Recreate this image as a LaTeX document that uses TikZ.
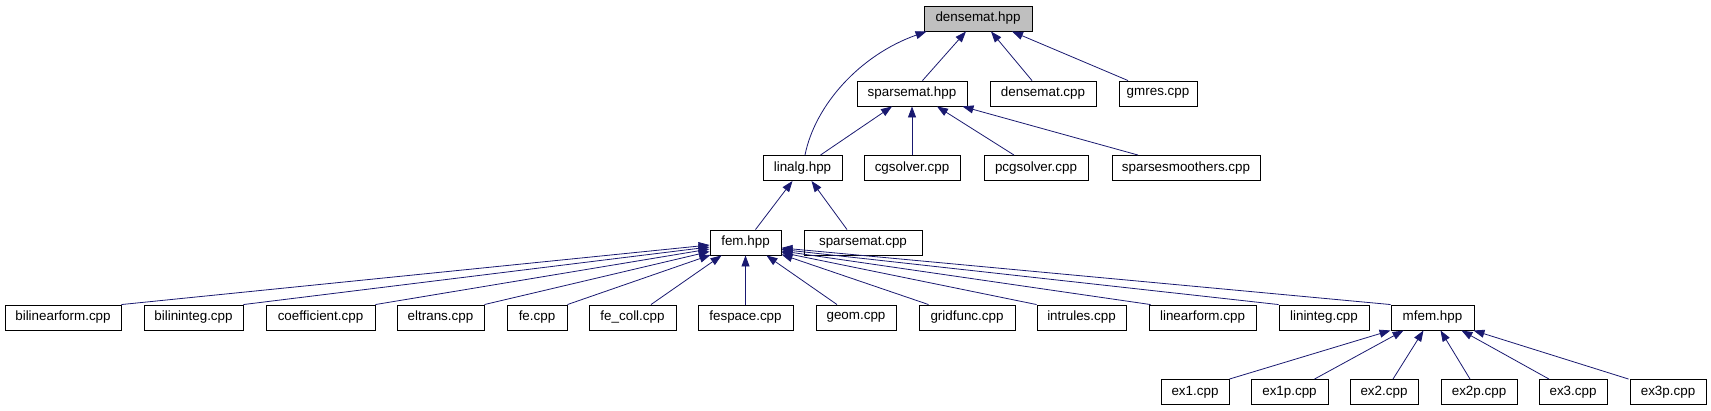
\documentclass[tikz,border=0pt]{standalone}
\usepackage{fontspec}
\setmainfont{Liberation Sans}
\usetikzlibrary{arrows.meta}
\definecolor{mblue}{HTML}{191970}
\definecolor{hgray}{HTML}{BFBFBF}
\begin{document}
\begin{tikzpicture}[x=1pt,y=-1pt,
  box/.style={draw=black, line width=0.9pt, fill=white, minimum height=25pt, inner sep=0pt, font=\fontsize{13.4}{15}\selectfont},
  edge/.style={draw=mblue, line width=0.8pt, -{Triangle[length=11pt,width=8pt]}}]
\useasboundingbox (0,0) rectangle (1711,411);
% row 0
\node[box, fill=hgray, minimum width=108pt] (dh) at (978,18.5) {densemat.hpp};
% row 1
\node[box, minimum width=110pt] (sh) at (912,93.5) {sparsemat.hpp};
\node[box, minimum width=106pt] (dc) at (1043,93.5) {densemat.cpp};
\node[box, minimum width=78pt] (gm) at (1158,93.5) {gmres.cpp};
% row 2
\node[box, minimum width=79pt] (la) at (802.5,168) {linalg.hpp};
\node[box, minimum width=96pt] (cg) at (912,168) {cgsolver.cpp};
\node[box, minimum width=104pt] (pcg) at (1036,168) {pcgsolver.cpp};
\node[box, minimum width=148pt] (ssm) at (1186,168) {sparsesmoothers.cpp};
% row 3
\node[box, minimum width=71pt] (fem) at (745.5,242.5) {fem.hpp};
\node[box, minimum width=118pt] (sc) at (863,242.5) {sparsemat.cpp};
% row 4
\node[box, minimum width=116pt] (blf) at (63,317.5) {bilinearform.cpp};
\node[box, minimum width=99pt] (bli) at (193.5,317.5) {bilininteg.cpp};
\node[box, minimum width=109pt] (coe) at (320.5,317.5) {coefficient.cpp};
\node[box, minimum width=87pt] (elt) at (440.5,317.5) {eltrans.cpp};
\node[box, minimum width=60pt] (fe) at (537,317.5) {fe.cpp};
\node[box, minimum width=87pt] (fec) at (632.5,317.5) {fe\_coll.cpp};
\node[box, minimum width=95pt] (fes) at (745.5,317.5) {fespace.cpp};
\node[box, minimum width=80pt] (geo) at (856,317.5) {geom.cpp};
\node[box, minimum width=96pt] (gf) at (967,317.5) {gridfunc.cpp};
\node[box, minimum width=89pt] (ir) at (1081.5,317.5) {intrules.cpp};
\node[box, minimum width=107pt] (lf) at (1202.5,317.5) {linearform.cpp};
\node[box, minimum width=90pt] (li) at (1324,317.5) {lininteg.cpp};
\node[box, minimum width=83pt] (mf) at (1432.5,317.5) {mfem.hpp};
% row 5
\node[box, minimum width=68pt] (e1) at (1195,392) {ex1.cpp};
\node[box, minimum width=77pt] (e1p) at (1289.5,392) {ex1p.cpp};
\node[box, minimum width=68pt] (e2) at (1384,392) {ex2.cpp};
\node[box, minimum width=76pt] (e2p) at (1479,392) {ex2p.cpp};
\node[box, minimum width=68pt] (e3) at (1573,392) {ex3.cpp};
\node[box, minimum width=76pt] (e3p) at (1668,392) {ex3p.cpp};
% edges to densemat.hpp
\draw[edge] ([xshift=10.5pt]sh.north) -- ([xshift=-12pt]dh.south);
\draw[edge] ([xshift=-11pt]dc.north) -- ([xshift=13pt]dh.south);
\draw[edge] ([xshift=-30pt]gm.north) -- ([xshift=34pt]dh.south);
\draw[edge] ([xshift=2.5pt]la.north) .. controls (815,105) and (860,55) .. ([xshift=3pt]dh.south west);
% edges to sparsemat.hpp
\draw[edge] ([xshift=18pt]la.north) -- ([xshift=-20pt]sh.south);
\draw[edge] (cg.north) -- (sh.south);
\draw[edge] ([xshift=-22pt]pcg.north) -- ([xshift=25pt]sh.south);
\draw[edge] ([xshift=-48pt]ssm.north) -- ([xshift=-5pt]sh.south east);
% edges to linalg.hpp
\draw[edge] ([xshift=10pt]fem.north) -- ([xshift=-10pt]la.south);
\draw[edge] ([xshift=-16pt]sc.north) -- ([xshift=9pt]la.south);
% edges to fem.hpp
\draw[edge] (blf.north east) -- ([yshift=-2.5pt]fem.west);
\draw[edge] (bli.north east) -- ([yshift=-4.5pt]fem.west);
\draw[edge] (coe.north east) -- ([yshift=-6.5pt]fem.west);
\draw[edge] (elt.north east) -- ([yshift=-9pt]fem.west);
\draw[edge] (fe.north east) -- ([xshift=1pt,yshift=0.5pt]fem.south west);
\draw[edge] ([xshift=18.5pt]fec.north) -- ([xshift=12pt]fem.south west);
\draw[edge] (fes.north) -- (fem.south);
\draw[edge] ([xshift=-19pt]geo.north) -- ([xshift=-15pt]fem.south east);
\draw[edge] ([xshift=10pt]gf.north west) -- ([yshift=1pt]fem.south east);
\draw[edge] (ir.north west) -- ([yshift=3pt]fem.south east);
\draw[edge] ([xshift=2pt]lf.north west) -- ([yshift=4.5pt]fem.south east);
\draw[edge] (li.north west) -- ([yshift=6pt]fem.south east);
\draw[edge] (mf.north west) -- ([yshift=7.5pt]fem.south east);
% edges to mfem.hpp
\draw[edge] (e1.north east) -- (mf.south west);
\draw[edge] ([xshift=25pt]e1p.north) -- ([xshift=13pt]mf.south west);
\draw[edge] ([xshift=9pt]e2.north) -- ([xshift=-9pt]mf.south);
\draw[edge] ([xshift=-9pt]e2p.north) -- ([xshift=8pt]mf.south);
\draw[edge] ([xshift=-24pt]e3.north) -- ([xshift=-13pt]mf.south east);
\draw[edge] ([xshift=-1pt]e3p.north west) -- ([xshift=-1pt]mf.south east);
\end{tikzpicture}
\end{document}
